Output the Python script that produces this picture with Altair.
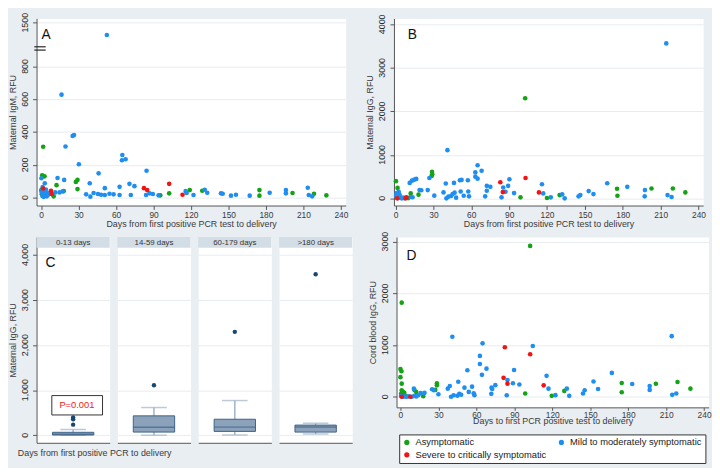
import altair as alt
import pandas as pd

FONT = "Liberation Sans"
STATUS = ["Asymptomatic", "Mild to moderately symptomatic", "Severe to critically symptomatic"]
COLORS = ["#14a314", "#1f8ef1", "#f01414"]

# tick labels
x_ticks = [0, 30, 60, 90, 120, 150, 180, 210, 240]
a_yticks = [0, 200, 400, 600, 800, 1500]
b_yticks = [0, 1000, 2000, 3000, 4000]
c_yticks = [0, 1000, 2000, 3000, 4000]
d_yticks = [0, 1000, 2000, 3000]

# ---------------- Panel A: maternal IgM (RFU) ----------------
a_asym_days = [1.6, 0.8, 2.7, 12.3, 18.1, 27.8, 29.1, 29.1, 0.3, 0.5, 1.8, 3.5, 10, 95.4, 102.5, 119, 129, 174.8, 174.8, 201.3, 218.5, 228.4]
a_asym_val = [310, 136, 130, 76, 40, 96, 108, 52, 50, 20, 12, 30, 8, 14, 26, 46, 42, 46, 12, 28, 24, 14]
a_mild_days = [52.6, 16.3, 25.2, 26.3, 19.5, 30.2, 65, 64.7, 67.6, 46, 84.4, 0.2, 13.1, 18.4, 2.9, 38.9, 70.7, 74.7, 51, 62.8,
               36, 39.4, 42, 45.5, 48, 51, 54.7, 58, 62.8, 71.8, 84, 86.8, 89.4, 94, 115.7, 116.5, 122, 131, 133, 144,
               145.4, 152, 156, 167, 183, 196, 196, 213.5, 214.3, 217,
               0, 0.5, 1, 1.5, 2, 2.5, 3.2, 4, 4.5, 5.5, 6.5, 11.3, 14.7, 17.3, 1.2, 3.8]
a_mild_val = [1230, 628, 376, 382, 312, 204, 260, 228, 234, 148, 164, 118, 120, 108, 88, 88, 84, 70, 58, 66,
              20, 6, 28, 22, 18, 16, 24, 20, 16, 16, 16, 26, 22, 14, 40, 28, 16, 48, 30, 26,
              24, 12, 18, 12, 30, 46, 26, 60, 16, 8,
              42, 30, 10, 22, 5, 38, 15, 28, 8, 18, 30, 32, 32, 38, 65, 50]
a_sev_days = [1.6, 7.9, 8.4, 82.3, 84.9, 102.5, 113.2]
a_sev_val = [56, 42, 22, 58, 46, 84, 18]

# ---------------- Panel B: maternal IgG (RFU) ----------------
b_asym_days = [0.3, 1.6, 3, 12, 18.2, 10, 1, 28.9, 29.1, 28.6, 99, 102.7, 120, 130, 175.5, 175.8, 202.8, 219.7, 229.6]
b_asym_val = [395, 240, 75, 113, 84, 5, 20, 611, 551, 513, 23, 2302, 8, 75, 219, 60, 226, 226, 136]
b_mild_days = [214.5, 41.1, 65, 68.2, 63.2, 63.2, 65, 26.8, 16.4, 14.8, 13, 11.2, 19, 20.4, 25.5, 30.7, 38, 39.8, 46.3, 51,
               52.3, 57.3, 51.6, 57.6, 46.8, 40.3, 41.9, 44, 45.2, 48, 54, 58.2, 71, 72.3, 72.3, 75.1, 84, 85.3, 87.1, 89.2,
               90.2, 93.9, 116, 117, 123, 132, 134, 145, 146.4, 153, 156.8, 167.7, 183.6, 197.6, 197.4, 215.5, 218.7,
               0.5, 1, 1.5, 2, 3, 4, 5, 6, 7, 12, 13.5, 2.5, 0.8]
b_mild_val = [3562, 1108, 762, 634, 597, 498, 452, 468, 446, 430, 407, 355, 190, 185, 190, 61, 136, 340, 355, 416,
              423, 416, 158, 158, 130, 0, 38, 53, 98, 15, 60, 45, 45, 287, 174, 264, 23, 249, 151, 287,
              438, 121, 325, 113, 23, 91, 0, 45, 75, 166, 98, 347, 264, 189, 45, 75, 30,
              60, 120, 30, 5, 90, 10, 0, 20, 3, 30, 25, 150, 80]
b_sev_days = [1.3, 8, 8.6, 83, 85, 103, 113.6]
b_sev_val = [0, 0, 23, 370, 143, 468, 136]

# ---------------- Panel C: maternal IgG by interval (box summaries) ----------------
c_groups = ["0-13 days", "14-59 days", "60-179 days", ">180 days"]
c_low = [0, 0, 5, 25]
c_q1 = [5, 70, 85, 70]
c_median = [20, 175, 180, 185]
c_q3 = [65, 430, 355, 225]
c_high = [128, 615, 770, 265]
c_outliers = [[235, 355, 395], [1110], [2295], [3575]]
c_pvalue = "P=0.001"

# ---------------- Panel D: cord blood IgG (RFU) ----------------
d_asym_days = [102.5, 1, 0, 0.8, 0, 1, 1, 2, 3, 0.5, 1.5, 4, 11.2, 12.5, 28.8, 28.8, 27.5, 18, 98.6, 119.6,
               129.5, 174.9, 174.9, 201.9, 219, 229.2]
d_asym_val = [2917, 1820, 538, 494, 380, 254, 127, 95, 76, 60, 40, 20, 126, 94, 259, 221, 133, 10, 63, 19,
              114, 266, 88, 253, 285, 158]
d_mild_days = [41, 64.9, 62.8, 62.8, 68, 64.4, 52.9, 89.8, 84.6, 45.7, 37.4, 39, 50.6, 56.6, 54, 57.9, 58.5, 40, 42, 45,
               46.5, 48, 72, 72.5, 71.8, 75, 84, 88.9, 94, 104.6, 115.5, 117, 122.5, 131.5, 133.4, 144.3, 145.6, 152.6,
               156.2, 167.1, 183.2, 197, 197, 214.4, 214.8, 218, 10.6, 25, 26.4, 16, 19, 30,
               2, 3.5, 5, 6.5, 9, 11, 12.5, 14, 0.5]
d_mild_val = [1160, 1033, 791, 633, 544, 424, 513, 519, 323, 291, 158, 209, 177, 196, 95, 68, 30, 0, 30, 20,
              60, 40, 177, 150, 57, 225, 30, 263, 237, 981, 405, 158, 32, 158, 19, 63, 126, 297,
              152, 462, 247, 209, 133, 1172, 38, 63, 158, 145, 126, 70, 75, 50,
              0, 5, 0, 10, 0, 20, 5, 30, 15]
d_sev_days = [1, 7.8, 82.5, 102.5, 81.5, 84.6, 113.2]
d_sev_val = [0, 0, 957, 823, 367, 254, 221]


def frame(asym_d, asym_v, mild_d, mild_v, sev_d, sev_v):
    rows = []
    for lab, ds, vs in ((STATUS[0], asym_d, asym_v), (STATUS[1], mild_d, mild_v), (STATUS[2], sev_d, sev_v)):
        for d, v in zip(ds, vs):
            rows.append({"days": d, "v": v, "status": lab})
    return pd.DataFrame(rows)


AXIS_COL = "#555555"
LAB_COL = "#3a3a3a"
GRID_COL = "#e7ecf0"


def x_axis(title, label_pad=1, title_pad=1, tick=4):
    return alt.Axis(values=x_ticks, title=title, grid=False, tickSize=tick, labelPadding=label_pad,
                    titlePadding=title_pad, labelFlush=False, labelOverlap=False)


def y_axis(title, values):
    # tick labels are drawn by a rotated text layer (see tick_text)
    return alt.Axis(values=values, title=title, labels=False, grid=True, tickSize=4, titlePadding=15)


def tick_text(vals, labels, scale, axis, calc=None):
    ch = alt.Chart(pd.DataFrame({"v": vals, "lab": labels}))
    field = "v:Q"
    if calc:
        ch = ch.transform_calculate(disp=calc)
        field = "disp:Q"
    return ch.mark_text(angle=270, align="center", baseline="bottom", fontSize=9, font=FONT,
                        color="#2a2a2a").encode(
        y=alt.Y(field, scale=scale, axis=axis), x=alt.value(-7), text="lab:N")


def letter(txt, x, y):
    return alt.Chart(pd.DataFrame({"t": [txt]})).mark_text(
        fontSize=14, font=FONT, align="left", baseline="top", color="#111"
    ).encode(text="t:N", x=alt.value(x), y=alt.value(y))


def color_enc(legend):
    return alt.Color("status:N", scale=alt.Scale(domain=STATUS, range=COLORS), legend=legend)


# ---- A ----
BREAK = 900
SQUEEZE = 0.2783
CALC = f"datum.v <= {BREAK} ? datum.v : {BREAK} + (datum.v - {BREAK}) * {SQUEEZE}"
a_tick_pos = [v if v <= BREAK else BREAK + (v - BREAK) * SQUEEZE for v in a_yticks]
dfa = frame(a_asym_days, a_asym_val, a_mild_days, a_mild_val, a_sev_days, a_sev_val)
xa = alt.Scale(domain=[-3.7, 243.9], nice=False, zero=False)
ya = alt.Scale(domain=[-48, 1093], nice=False, zero=False)
xa_axis = x_axis("Days from first positive PCR test to delivery")
ya_axis = y_axis("Maternal IgM, RFU", a_tick_pos)
a_pts = alt.Chart(dfa).transform_calculate(disp=CALC).mark_circle(size=22, opacity=1).encode(
    x=alt.X("days:Q", scale=xa, axis=xa_axis),
    y=alt.Y("disp:Q", scale=ya, axis=ya_axis),
    color=color_enc(None),
)
a_break = alt.Chart(pd.DataFrame({"b": [BREAK, BREAK + 20]})).mark_rule(color="#222", strokeWidth=1.2).encode(
    y=alt.Y("b:Q", scale=ya, axis=ya_axis),
    x=alt.X(datum=-5.5, scale=xa, axis=xa_axis), x2=alt.X2(datum=3.6)
)
A = alt.layer(
    a_pts, a_break,
    tick_text(a_yticks, [str(v) for v in a_yticks], ya, ya_axis, calc=CALC),
    letter("A", 5, 10),
).properties(width=314, height=190)

# ---- B ----
dfb = frame(b_asym_days, b_asym_val, b_mild_days, b_mild_val, b_sev_days, b_sev_val)
yb = alt.Scale(domain=[-165, 4136], nice=False, zero=False)
yb_axis = y_axis("Maternal IgG, RFU", b_yticks)
B = alt.layer(
    alt.Chart(dfb).mark_circle(size=22, opacity=1).encode(
        x=alt.X("days:Q", scale=alt.Scale(domain=[-1.25, 243.7], nice=False, zero=False),
                axis=x_axis("Days from first positive PCR test to delivery")),
        y=alt.Y("v:Q", scale=yb, axis=yb_axis),
        color=color_enc(None),
    ),
    tick_text(b_yticks, [str(v) for v in b_yticks], yb, yb_axis),
    letter("B", 14, 10),
).properties(width=314, height=190)

# ---- C ----
BOX_FILL = "#8ba2ba"
BOX_LINE = "#3e6386"
WHISK = "#9fb3c6"
NAVY = "#1a476f"
cy = alt.Scale(domain=[-168, 4400], nice=False, zero=False)
CW = 74.3
STRIP = 11


def box_panel(i):
    summ = pd.DataFrame({"g": [c_groups[i]], "lo": [c_low[i]], "q1": [c_q1[i]], "med": [c_median[i]],
                         "q3": [c_q3[i]], "hi": [c_high[i]]})
    outl = pd.DataFrame({"g": [c_groups[i]] * len(c_outliers[i]), "v": c_outliers[i]})
    if i == 0:
        yax = y_axis("Maternal IgG, RFU", c_yticks)
    else:
        yax = alt.Axis(values=c_yticks, title=None, labels=False, ticks=False, domain=False, grid=True)
    xax = alt.Axis(title=None, labels=False, ticks=False)
    xenc = alt.X("g:N", axis=xax, scale=alt.Scale(paddingInner=0, paddingOuter=0))
    base = alt.Chart(summ)
    head = pd.DataFrame({"t": [c_groups[i]]})
    layers = [
        base.mark_rule(color=WHISK, strokeWidth=1.5).encode(x=xenc, y=alt.Y("lo:Q", scale=cy, axis=yax), y2="hi:Q"),
        alt.Chart(head).mark_rect(fill="#d3dde6").encode(
            x=alt.value(0), x2=alt.value(CW), y=alt.value(0), y2=alt.value(STRIP)),
        alt.Chart(head).mark_text(fontSize=8, font=FONT, color="#333", baseline="middle").encode(
            text="t:N", x=alt.value(CW / 2), y=alt.value(STRIP / 2 + 0.5)),
        base.mark_tick(size=26, thickness=1.5, color=WHISK).encode(x=xenc, y=alt.Y("lo:Q", axis=yax)),
        base.mark_tick(size=26, thickness=1.5, color=WHISK).encode(x=xenc, y=alt.Y("hi:Q", axis=yax)),
        base.mark_bar(size=42, fill=BOX_FILL, stroke=BOX_LINE, strokeWidth=1).encode(
            x=xenc, y=alt.Y("q1:Q", axis=yax), y2="q3:Q"),
        base.mark_tick(size=42, thickness=1.5, color=BOX_LINE).encode(x=xenc, y=alt.Y("med:Q", axis=yax)),
        alt.Chart(outl).mark_circle(size=20, color=NAVY, opacity=1).encode(x=xenc, y=alt.Y("v:Q", axis=yax)),
    ]
    if i == 0:
        pv = pd.DataFrame({"t": [c_pvalue]})
        layers.append(alt.Chart(pv).mark_rect(fill="white", stroke="#333", strokeWidth=1).encode(
            x=alt.value(15.5), x2=alt.value(67), y=alt.Y(datum=450, axis=yax), y2=alt.Y2(datum=880)))
        layers.append(alt.Chart(pv).mark_text(color="#f02020", fontSize=9.5, font=FONT).encode(
            text="t:N", x=alt.value(41), y=alt.Y(datum=665, axis=yax)))
        layers.append(tick_text(c_yticks, [f"{v:,}" for v in c_yticks], cy, yax))
        layers.append(letter("C", 9, 19))
    return alt.layer(*layers).properties(width=CW, height=209)


C = alt.hconcat(*[box_panel(i) for i in range(4)], spacing=6.1).properties(
    title=alt.TitleParams("Days from first positive  PCR to delivery", orient="bottom", anchor="start",
                          fontSize=9, font=FONT, color=LAB_COL, fontWeight="normal", dx=10, offset=6))

# ---- D ----
dfd = frame(d_asym_days, d_asym_val, d_mild_days, d_mild_val, d_sev_days, d_sev_val)
yd = alt.Scale(domain=[-204, 3089], nice=False, zero=False)
yd_axis = y_axis("Cord blood IgG, RFU", d_yticks)
legend_d = alt.Legend(orient="none", legendX=2.7, legendY=200.5, direction="horizontal", columns=2, title=None,
                      strokeColor="#333", fillColor="white", padding=3, symbolType="circle", symbolSize=28,
                      labelFontSize=9.5, labelFont=FONT, labelColor="#222", columnPadding=10, rowPadding=2,
                      symbolStrokeWidth=0, labelLimit=300)
D = alt.layer(
    alt.Chart(dfd).mark_circle(size=22, opacity=1).encode(
        x=alt.X("days:Q", scale=alt.Scale(domain=[-3.1, 243.6], nice=False, zero=False),
                axis=x_axis("Days to first PCR positive test to delivery", label_pad=0, title_pad=-2, tick=3)),
        y=alt.Y("v:Q", scale=yd, axis=yd_axis),
        color=color_enc(legend_d),
    ),
    tick_text(d_yticks, [str(v) for v in d_yticks], yd, yd_axis),
    letter("D", 10, 12),
).properties(width=317, height=173)

top = alt.hconcat(A, B, spacing=17).resolve_scale(color="independent")
bottom = alt.hconcat(C, D, spacing=14.6).resolve_scale(color="independent")
chart = alt.vconcat(top, bottom, spacing=2).resolve_scale(color="independent").properties(
    padding=0
).configure(background="#e8eef2").configure_view(fill="white", stroke="transparent").configure_axis(
    labelFont=FONT, titleFont=FONT, labelColor=LAB_COL, titleColor=LAB_COL, titleFontWeight="normal",
    domainColor=AXIS_COL, tickColor=AXIS_COL, gridColor=GRID_COL, labelFontSize=8.5, titleFontSize=9,
    labelOverlap=False,
).configure_legend(strokeColor="#333", strokeWidth=1, fillColor="white", padding=3)

chart.save("out.html", embed_options={"renderer": "svg", "actions": False})
